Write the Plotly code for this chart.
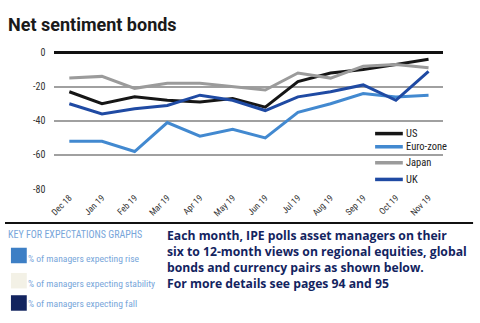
import plotly.graph_objects as go

months = ["Dec 18", "Jan 19", "Feb 19", "Mar 19", "Apr 19", "May 19",
          "Jun 19", "Jul 19", "Aug 19", "Sep 19", "Oct 19", "Nov 19"]
us = [-23, -30, -26, -28, -29, -27, -32, -17, -12, -10, -7, -4]
euro = [-52, -52, -58, -41, -49, -45, -50, -35, -30, -24, -26, -25]
japan = [-15, -14, -21, -18, -18, -20, -22, -12, -15, -8, -7, -9]
uk = [-30, -36, -33, -31, -25, -28, -34, -26, -23, -19, -28, -11]
y_ticks = [0, -20, -40, -60, -80]

W, H = 480, 323
COND = "Liberation Sans Narrow, Roboto Condensed, Arial Narrow, Liberation Sans, sans-serif"
TITLE = "Roboto, Liberation Sans, sans-serif"
PARA = "Open Sans, Roboto, Liberation Sans, sans-serif"

def py(p):
    return 1 - p / H

def px(p):
    return p / W

xs = list(range(len(months)))
fig = go.Figure()
series = [("US", us, "#161616"), ("Euro-zone", euro, "#4289d0"),
          ("Japan", japan, "#9b9b9b"), ("UK", uk, "#1f4aa3")]
for name, vals, col in series:
    fig.add_trace(go.Scatter(x=xs, y=vals, name=name, mode="lines",
                             line=dict(color=col, width=3)))

fig.update_layout(
    width=W, height=H, margin=dict(l=0, r=0, t=0, b=0),
    paper_bgcolor="white", plot_bgcolor="white",
    showlegend=False,
    xaxis=dict(domain=[px(50), px(443)], range=[-0.4545, 11.4545],
               tickvals=xs, ticktext=months, tickangle=-45,
               showgrid=False, zeroline=False, showline=False,
               ticks="", tickfont=dict(family=COND, size=9, color="#333")),
    yaxis=dict(domain=[py(190.9), py(48.1)], range=[-80.5, 0.5],
               tickvals=y_ticks, ticktext=[str(v) for v in y_ticks],
               showgrid=True, gridcolor="#a0a0a0", gridwidth=1.5,
               zeroline=True, zerolinecolor="#111", zerolinewidth=2.5,
               showline=False, ticks="", ticklabelstandoff=8,
               tickfont=dict(family=COND, size=10, color="#333")),
)

# custom legend (in paper space)
leg_y = [132.7, 146.3, 162.8, 180]
for (name, vals, col), yy in zip(series, leg_y):
    fig.add_shape(type="line", xref="paper", yref="paper", x0=px(374), x1=px(402),
                  y0=py(yy), y1=py(yy), line=dict(color=col, width=3.5))
    fig.add_annotation(text=name, xref="paper", yref="paper", x=px(403), y=py(yy),
                       xanchor="left", yanchor="middle", showarrow=False,
                       font=dict(family=COND, size=10.5, color="#222"))

# title
fig.add_annotation(text="<b>Net sentiment bonds</b>", xref="paper", yref="paper",
                   x=px(1), y=py(20), xanchor="left", yanchor="middle",
                   showarrow=False, font=dict(family=TITLE, size=18, color="#1a1a1a"))

# rule
fig.add_shape(type="line", xref="paper", yref="paper", x0=0, x1=px(473),
              y0=py(225), y1=py(225), line=dict(color="#111", width=2))

# key
fig.add_annotation(text="KEY FOR EXPECTATIONS GRAPHS", xref="paper", yref="paper",
                   x=px(1), y=py(237), xanchor="left", yanchor="middle",
                   showarrow=False, font=dict(family=COND, size=10, color="#78a6da"))
keys = [("% of managers expecting rise", "#3d7fc5", 250.5, 266.5, 262),
        ("% of managers expecting stability", "#f3f1e6", 276.5, 292.5, 287),
        ("% of managers expecting fall", "#13245f", 299.5, 315.5, 308)]
for txt, col, y0, y1, yc in keys:
    fig.add_shape(type="rect", xref="paper", yref="paper", x0=px(6), x1=px(22),
                  y0=py(y1), y1=py(y0), fillcolor=col, line=dict(width=0),
                  layer="below")
    fig.add_annotation(text=txt, xref="paper", yref="paper", x=px(21.5), y=py(yc),
                       xanchor="left", yanchor="middle", showarrow=False,
                       font=dict(family=COND, size=9.6, color="#78a6da"))

para = ["Each month, IPE polls asset managers on their",
        "six to 12-month views on regional equities, global",
        "bonds and currency pairs as shown below.",
        "For more details see pages 94 and 95"]
fig.add_annotation(text="<br>".join("<b>" + s + "</b>" for s in para),
                   xref="paper", yref="paper", x=px(162), y=py(262.5),
                   xanchor="left", yanchor="middle", align="left",
                   showarrow=False, font=dict(family=PARA, size=12.2, color="#13245f"))

fig.write_html("out.html")
